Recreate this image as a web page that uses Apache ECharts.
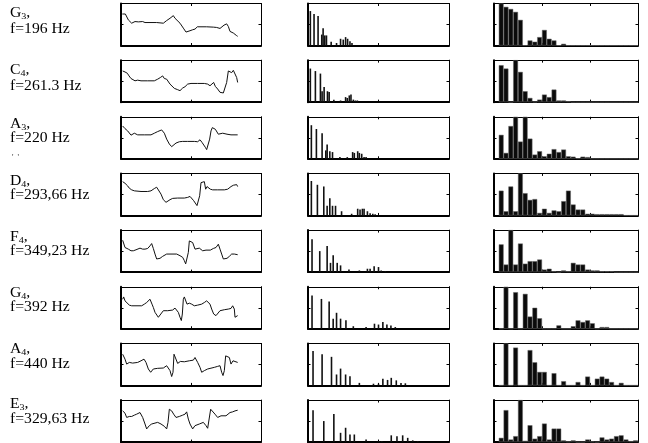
<!DOCTYPE html>
<html><head><meta charset="utf-8">
<script src="https://cdn.jsdelivr.net/npm/echarts@6/dist/echarts.min.js"></script>
<style>html,body{margin:0;padding:0;background:#fff}#c{width:648px;height:443px}</style>
</head><body><div id="c"></div>
<script>
// ---- labels ----
const noteLetters = ['G','C','A','D','F','G','A','E'];
const noteOctaves = ['3','4','3','4','4','4','4','3'];
const freqLabels = ['f=196 Hz','f=261.3 Hz','f=220 Hz','f=293,66 Hz','f=349,23 Hz','f=392 Hz','f=440 Hz','f=329,63 Hz'];

// ---- column 1: waveforms [sample, amplitude] ----
const waveG3 = [[4,96],[7,100],[10,93],[13,96],[17,90],[22,78],[27,83],[32,68],[37,63],[42,73],[47,68],[52,72],[57,68],[65,73],[72,70],[87,70],[107,70],[127,68],[137,76],[147,83],[152,86],[157,91],[162,83],[167,83],[177,68],[187,53],[195,41],[200,38],[207,45],[215,48],[222,50],[229,57],[237,57],[257,57],[277,56],[287,55],[292,58],[297,52],[302,58],[309,62],[317,66],[322,58],[327,43],[332,46],[337,38],[342,40],[347,30],[350,28]];
const waveC4 = [[5,95],[8,100],[12,92],[15,95],[19,88],[24,80],[30,72],[36,70],[42,65],[50,67],[60,65],[80,65],[100,65],[110,70],[118,75],[125,80],[130,72],[137,70],[147,55],[160,42],[170,38],[177,35],[185,43],[192,47],[200,55],[210,57],[230,57],[250,57],[260,55],[267,50],[273,53],[278,60],[283,48],[290,40],[297,30],[302,25],[307,28],[312,30],[317,60],[322,95],[327,100],[332,90],[337,97],[342,93],[347,75],[350,60]];
const waveA3 = [[5,100],[8,103],[12,92],[16,96],[20,85],[25,80],[30,72],[35,75],[40,78],[50,73],[70,73],[90,73],[100,78],[110,83],[122,88],[130,78],[137,60],[145,45],[152,37],[158,42],[165,48],[175,52],[185,53],[200,53],[220,53],[230,52],[237,58],[243,50],[248,48],[253,35],[257,28],[262,33],[266,60],[270,85],[274,95],[278,100],[283,90],[287,95],[292,75],[298,70],[305,78],[310,72],[318,75],[330,73],[350,73]];
const waveD4 = [[5,103],[8,108],[12,98],[16,100],[20,90],[25,83],[32,78],[40,75],[60,73],[80,73],[90,75],[100,82],[107,86],[112,80],[120,65],[127,48],[135,40],[140,38],[147,48],[155,52],[170,53],[190,53],[200,55],[207,58],[212,52],[218,45],[224,40],[228,30],[232,28],[236,60],[240,100],[245,105],[250,103],[254,80],[258,88],[262,90],[268,80],[275,78],[290,78],[310,78],[320,80],[330,88],[337,92],[342,90],[347,94],[350,88]];
const waveF4 = [[5,97],[8,95],[12,75],[16,72],[22,70],[30,65],[37,65],[45,68],[57,73],[65,70],[72,70],[80,72],[87,80],[92,87],[97,72],[102,55],[107,40],[112,35],[117,42],[125,48],[137,55],[150,55],[167,55],[177,50],[185,45],[190,35],[194,25],[198,30],[202,60],[205,95],[210,97],[215,90],[222,70],[228,75],[235,73],[245,65],[255,67],[268,67],[277,72],[285,75],[292,85],[297,70],[302,55],[307,40],[312,35],[318,42],[325,48],[332,55],[340,55],[350,53]];
const waveG4 = [[5,90],[8,97],[12,85],[17,80],[25,72],[32,70],[45,70],[62,70],[70,75],[77,80],[87,90],[93,75],[97,65],[102,50],[107,45],[112,35],[118,40],[127,55],[140,55],[155,57],[162,63],[167,58],[172,50],[177,35],[181,25],[184,45],[187,90],[190,97],[194,95],[198,75],[205,78],[212,75],[220,70],[230,72],[242,75],[250,80],[257,85],[262,90],[267,75],[272,60],[278,45],[285,40],[297,55],[310,58],[322,60],[330,62],[335,70],[340,60],[342,35],[345,30],[348,35],[350,40]];
const waveA4 = [[5,95],[8,100],[12,80],[17,65],[25,70],[35,68],[50,70],[60,75],[69,80],[75,70],[82,50],[89,40],[97,50],[110,52],[127,53],[137,60],[142,55],[147,45],[152,27],[156,40],[159,95],[165,100],[170,67],[178,73],[190,72],[205,75],[217,77],[222,85],[230,70],[237,55],[242,40],[250,45],[260,50],[280,55],[290,58],[297,60],[302,40],[306,30],[310,45],[314,90],[320,95],[325,85],[330,65],[336,75],[342,73],[350,70]];
const waveE3 = [[5,95],[8,100],[12,88],[17,75],[25,78],[32,78],[40,82],[47,85],[57,90],[65,75],[72,55],[77,40],[85,50],[92,55],[110,60],[120,55],[130,48],[137,40],[141,60],[145,100],[152,95],[158,85],[165,75],[175,78],[185,82],[192,85],[197,92],[202,70],[207,55],[215,40],[222,50],[235,55],[247,60],[255,50],[260,42],[264,45],[269,100],[275,95],[282,85],[290,75],[300,80],[315,80],[327,90],[335,92],[342,95],[350,97]];

// ---- column 2: line spectra [frequency bin, magnitude] ----
const specG3 = [[7,82],[18,75],[30,70],[41,26],[45,41],[50,24],[55,24],[69,9],[85,6],[97,16],[105,14],[112,20],[118,16],[125,10],[131,6]];
const specC4 = [[7,80],[22,74],[37,68],[42,26],[48,36],[58,26],[63,24],[77,6],[97,4],[112,12],[117,10],[123,16],[128,18],[135,6],[141,4],[147,4]];
const specA3 = [[10,80],[25,71],[42,61],[53,20],[57,34],[65,18],[73,16],[95,4],[117,4],[133,16],[138,14],[148,18],[153,14],[160,12],[167,4],[173,4]];
const specD4 = [[10,82],[28,73],[47,69],[57,23],[65,41],[73,23],[82,23],[100,10],[130,4],[148,16],[155,14],[162,16],[167,16],[177,10],[185,5],[193,4],[200,3]];
const specF4 = [[12,78],[35,50],[57,62],[67,22],[75,40],[87,22],[97,16],[122,6],[153,4],[177,8],[185,8],[197,14],[210,12],[218,4],[230,2]];
const specG4 = [[12,79],[40,71],[63,65],[75,24],[85,38],[97,24],[113,20],[135,6],[173,4],[198,12],[210,10],[223,16],[235,10],[247,8],[260,4]];
const specA4 = [[15,82],[42,74],[70,68],[85,26],[97,40],[112,26],[125,22],[153,6],[195,4],[210,4],[223,16],[237,13],[248,18],[263,12],[277,6],[290,5]];
const specE3 = [[15,76],[47,50],[77,67],[97,22],[112,34],[125,18],[138,18],[173,6],[210,2],[220,2],[248,16],[265,14],[282,16],[297,10],[312,4],[327,2]];

// ---- column 3: histograms (bins 1..29) ----
const histG3 = [100,92,87,80,61,0,12,9,20,37,16,12,0,4,0,0,0,0,0,0,0,0,0,0,0,0,0,0,0];
const histC4 = [88,80,0,100,72,26,10,1,6,18,12,30,4,4,2,0,0,0,0,0,0,0,0,0,0,0,0,0,0];
const histA3 = [57,14,78,100,41,100,48,10,18,6,12,23,16,22,6,5,1,5,4,0,0,0,0,0,0,0,0,0,0];
const histD4 = [59,10,69,10,100,53,37,39,6,16,6,12,10,34,59,26,14,14,4,4,3,3,3,3,3,3,0,0,0];
const histF4 = [66,18,100,18,68,20,26,26,30,6,8,2,0,4,2,22,18,18,6,4,4,2,2,2,0,0,0,0,0];
const histG4 = [0,100,0,87,0,83,29,50,25,0,0,0,8,0,0,6,20,16,20,13,0,4,4,0,0,0,0,0,0];
const histA4 = [0,100,0,90,0,0,84,55,32,32,0,29,0,10,0,0,8,0,21,0,16,21,16,8,0,6,0,0,0];
const histE3 = [10,76,6,14,100,3,40,8,14,44,6,32,32,4,1,4,0,0,6,1,0,11,6,8,14,16,6,2,4];

const waves = [waveG3,waveC4,waveA3,waveD4,waveF4,waveG4,waveA4,waveE3];
const specs = [specG3,specC4,specA3,specD4,specF4,specG4,specA4,specE3];
const hists = [histG3,histC4,histA3,histD4,histF4,histG4,histA4,histE3];

// ---- layout ----
const colLeft = [121, 308, 494];
const colW = [140, 141, 144];
const rowTop = r => 3.5 + 56.65 * r;
const rowH = 42;
const ranges = [
  {x:[0,420,210], y:[0,128,64]},
  {x:[0,420,210], y:[0,100,50]},
  {x:[0,30,10],   y:[0,100,50]}
];
const line1Y = [13,70,124,181,237,293,349,404];
const line2Y = [30,87,139,196,252,308,365,420];

const grids = [], xAxes = [], yAxes = [], series = [], graphics = [];
function axis(gi, pos, rg, w) {
  return {gridIndex: gi, type: 'value', position: pos, min: rg[0], max: rg[1], interval: rg[2],
    axisLine: {show: true, onZero: false, lineStyle: {color: '#000', width: w}},
    axisTick: {show: true, inside: true, length: 2.5, lineStyle: {color: '#000', width: 1}},
    axisLabel: {show: false}, splitLine: {show: false}};
}
for (let r = 0; r < 8; r++) {
  for (let c = 0; c < 3; c++) {
    const gi = grids.length;
    grids.push({left: colLeft[c], top: rowTop(r), width: colW[c], height: rowH});
    xAxes.push(axis(gi, 'bottom', ranges[c].x, 2));
    xAxes.push(axis(gi, 'top', ranges[c].x, 1));
    yAxes.push(axis(gi, 'left', ranges[c].y, 2));
    yAxes.push(axis(gi, 'right', ranges[c].y, 1));
    const xi = 2 * gi, yi = 2 * gi;
    if (c === 0) {
      series.push({type: 'line', xAxisIndex: xi, yAxisIndex: yi, data: waves[r], showSymbol: false,
        lineStyle: {color: '#111', width: 1}, animation: false});
    } else if (c === 1) {
      series.push({type: 'bar', xAxisIndex: xi, yAxisIndex: yi, data: specs[r], barWidth: 1.6,
        itemStyle: {color: '#111'}, animation: false});
    } else {
      series.push({type: 'bar', xAxisIndex: xi, yAxisIndex: yi,
        data: hists[r].map((v, k) => [k + 1.5, v]), barWidth: colW[2] / 30,
        itemStyle: {color: '#0b0b0b', borderColor: '#666', borderWidth: 0.5}, animation: false});
    }
  }
  const rich = {
    n: {fontFamily: 'Liberation Serif', fontSize: 14, lineHeight: 16, fill: '#000'},
    s: {fontFamily: 'Liberation Serif', fontSize: 9, lineHeight: 10, verticalAlign: 'bottom', fill: '#000'}
  };
  graphics.push({type: 'text', x: 10, y: line1Y[r] - 8, scaleX: 1.12, silent: true,
    style: {text: '{n|' + noteLetters[r] + '}{s|' + noteOctaves[r] + '}{n|,}', rich: rich, fill: '#000',
      fontFamily: 'Liberation Serif', fontSize: 14}});
  graphics.push({type: 'text', x: 10, y: line2Y[r] - 8, scaleX: 1.12, silent: true,
    style: {text: freqLabels[r], fill: '#000', font: '14px "Liberation Serif"'}});
}
graphics.push({type: 'text', x: 12, y: 154, silent: true,
  style: {text: "'  '", fill: '#333', font: '8px "Liberation Serif"'}});

const chart = echarts.init(document.getElementById('c'));
chart.setOption({
  backgroundColor: '#fff',
  animation: false,
  grid: grids, xAxis: xAxes, yAxis: yAxes, series: series, graphic: graphics
});
</script>
</body></html>
